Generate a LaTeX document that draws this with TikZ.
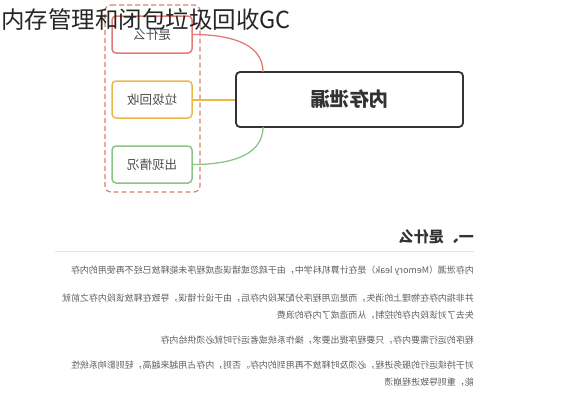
\documentclass[tikz,border=0pt]{standalone}
\usepackage{fontspec}
\setmainfont{Noto Sans CJK SC}

\definecolor{tred}{HTML}{E57B78}
\definecolor{torange}{HTML}{EDB84A}
\definecolor{tgreen}{HTML}{8CC487}
\definecolor{tdash}{HTML}{D9806F}
\definecolor{tdark}{HTML}{333333}
\definecolor{ttext}{HTML}{5E5E5E}

\begin{document}
\begin{tikzpicture}[
    x=1pt, y=-1pt,
    rootbox/.style={
        draw=tdark,
        line width=1.8pt,
        rounded corners=4pt,
        minimum width=227pt,
        minimum height=55pt,
        font=\fontsize{19.5}{19.5}\selectfont\bfseries,
        text=tdark
    },
    branch/.style={
        draw=#1,
        line width=1.5pt,
        rounded corners=4pt,
        minimum width=80pt,
        minimum height=37pt,
        font=\fontsize{12.5}{12.5}\selectfont,
        text=black!70
    },
    para/.style={
        anchor=west,
        inner sep=0pt,
        align=left,
        text=ttext,
        font=\fontsize{8.95}{17}\selectfont
    }
]

    \useasboundingbox (0,0) rectangle (569,400);

    % Mirrored screenshot
    \begin{scope}[xshift=569pt, xscale=-1, transform shape]

        % Mind map
        \node[rootbox] (leak) at (219.5,99.5) {内存泄漏};
        \node[branch=tred] (what) at (417,34.5) {是什么};
        \node[branch=torange] (gc) at (417,99.5) {垃圾回收};
        \node[branch=tgreen] (case) at (417,164.5) {出现情况};
        \node[draw=tdash, dash pattern=on 5pt off 3pt, line width=1.2pt, rounded corners=6pt,
              minimum width=95pt, minimum height=187pt] (group) at (416.5,98.5) {};

        \coordinate (leaktop) at (306,72);
        \coordinate (leakbot) at (306,127);

        \draw[tred, line width=1.3pt] (leaktop) to[out=90, in=180] (what.west);
        \draw[torange, line width=2pt] (leak.east) -- (gc.west);
        \draw[tgreen, line width=1.3pt] (leakbot) to[out=-90, in=180] (case.west);

        % Article text
        \node[anchor=west, inner sep=0pt, text=tdark,
              font=\fontsize{15}{15}\selectfont\bfseries] (head) at (95,237) {一、是什么};
        \coordinate (ruleA) at (95,251);
        \coordinate (ruleB) at (514,251);
        \draw[black!10, line width=0.8pt] (ruleA) -- (ruleB);

        \node[para] (p1) at (95,271) {内存泄漏（Memory leak）是在计算机科学中，由于疏忽或错误造成程序未能释放已经不再使用的内存};
        \node[para] (p2) at (95,306.5) {并非指内存在物理上的消失，而是应用程序分配某段内存后，由于设计错误，导致在释放该段内存之前就\\失去了对该段内存的控制，从而造成了内存的浪费};
        \node[para] (p3) at (95,340) {程序的运行需要内存，只要程序提出要求，操作系统或者运行时就必须供给内存};
        \node[para] (p4) at (95,374) {对于持续运行的服务进程，必须及时释放不再用到的内存。否则，内存占用越来越高，轻则影响系统性\\能，重则导致进程崩溃};

    \end{scope}

    % Title
    \node[anchor=west, inner sep=0pt, text=black!85,
          font=\fontsize{23.5}{23.5}\selectfont] (title) at (1,20) {内存管理和闭包垃圾回收GC};

\end{tikzpicture}
\end{document}
